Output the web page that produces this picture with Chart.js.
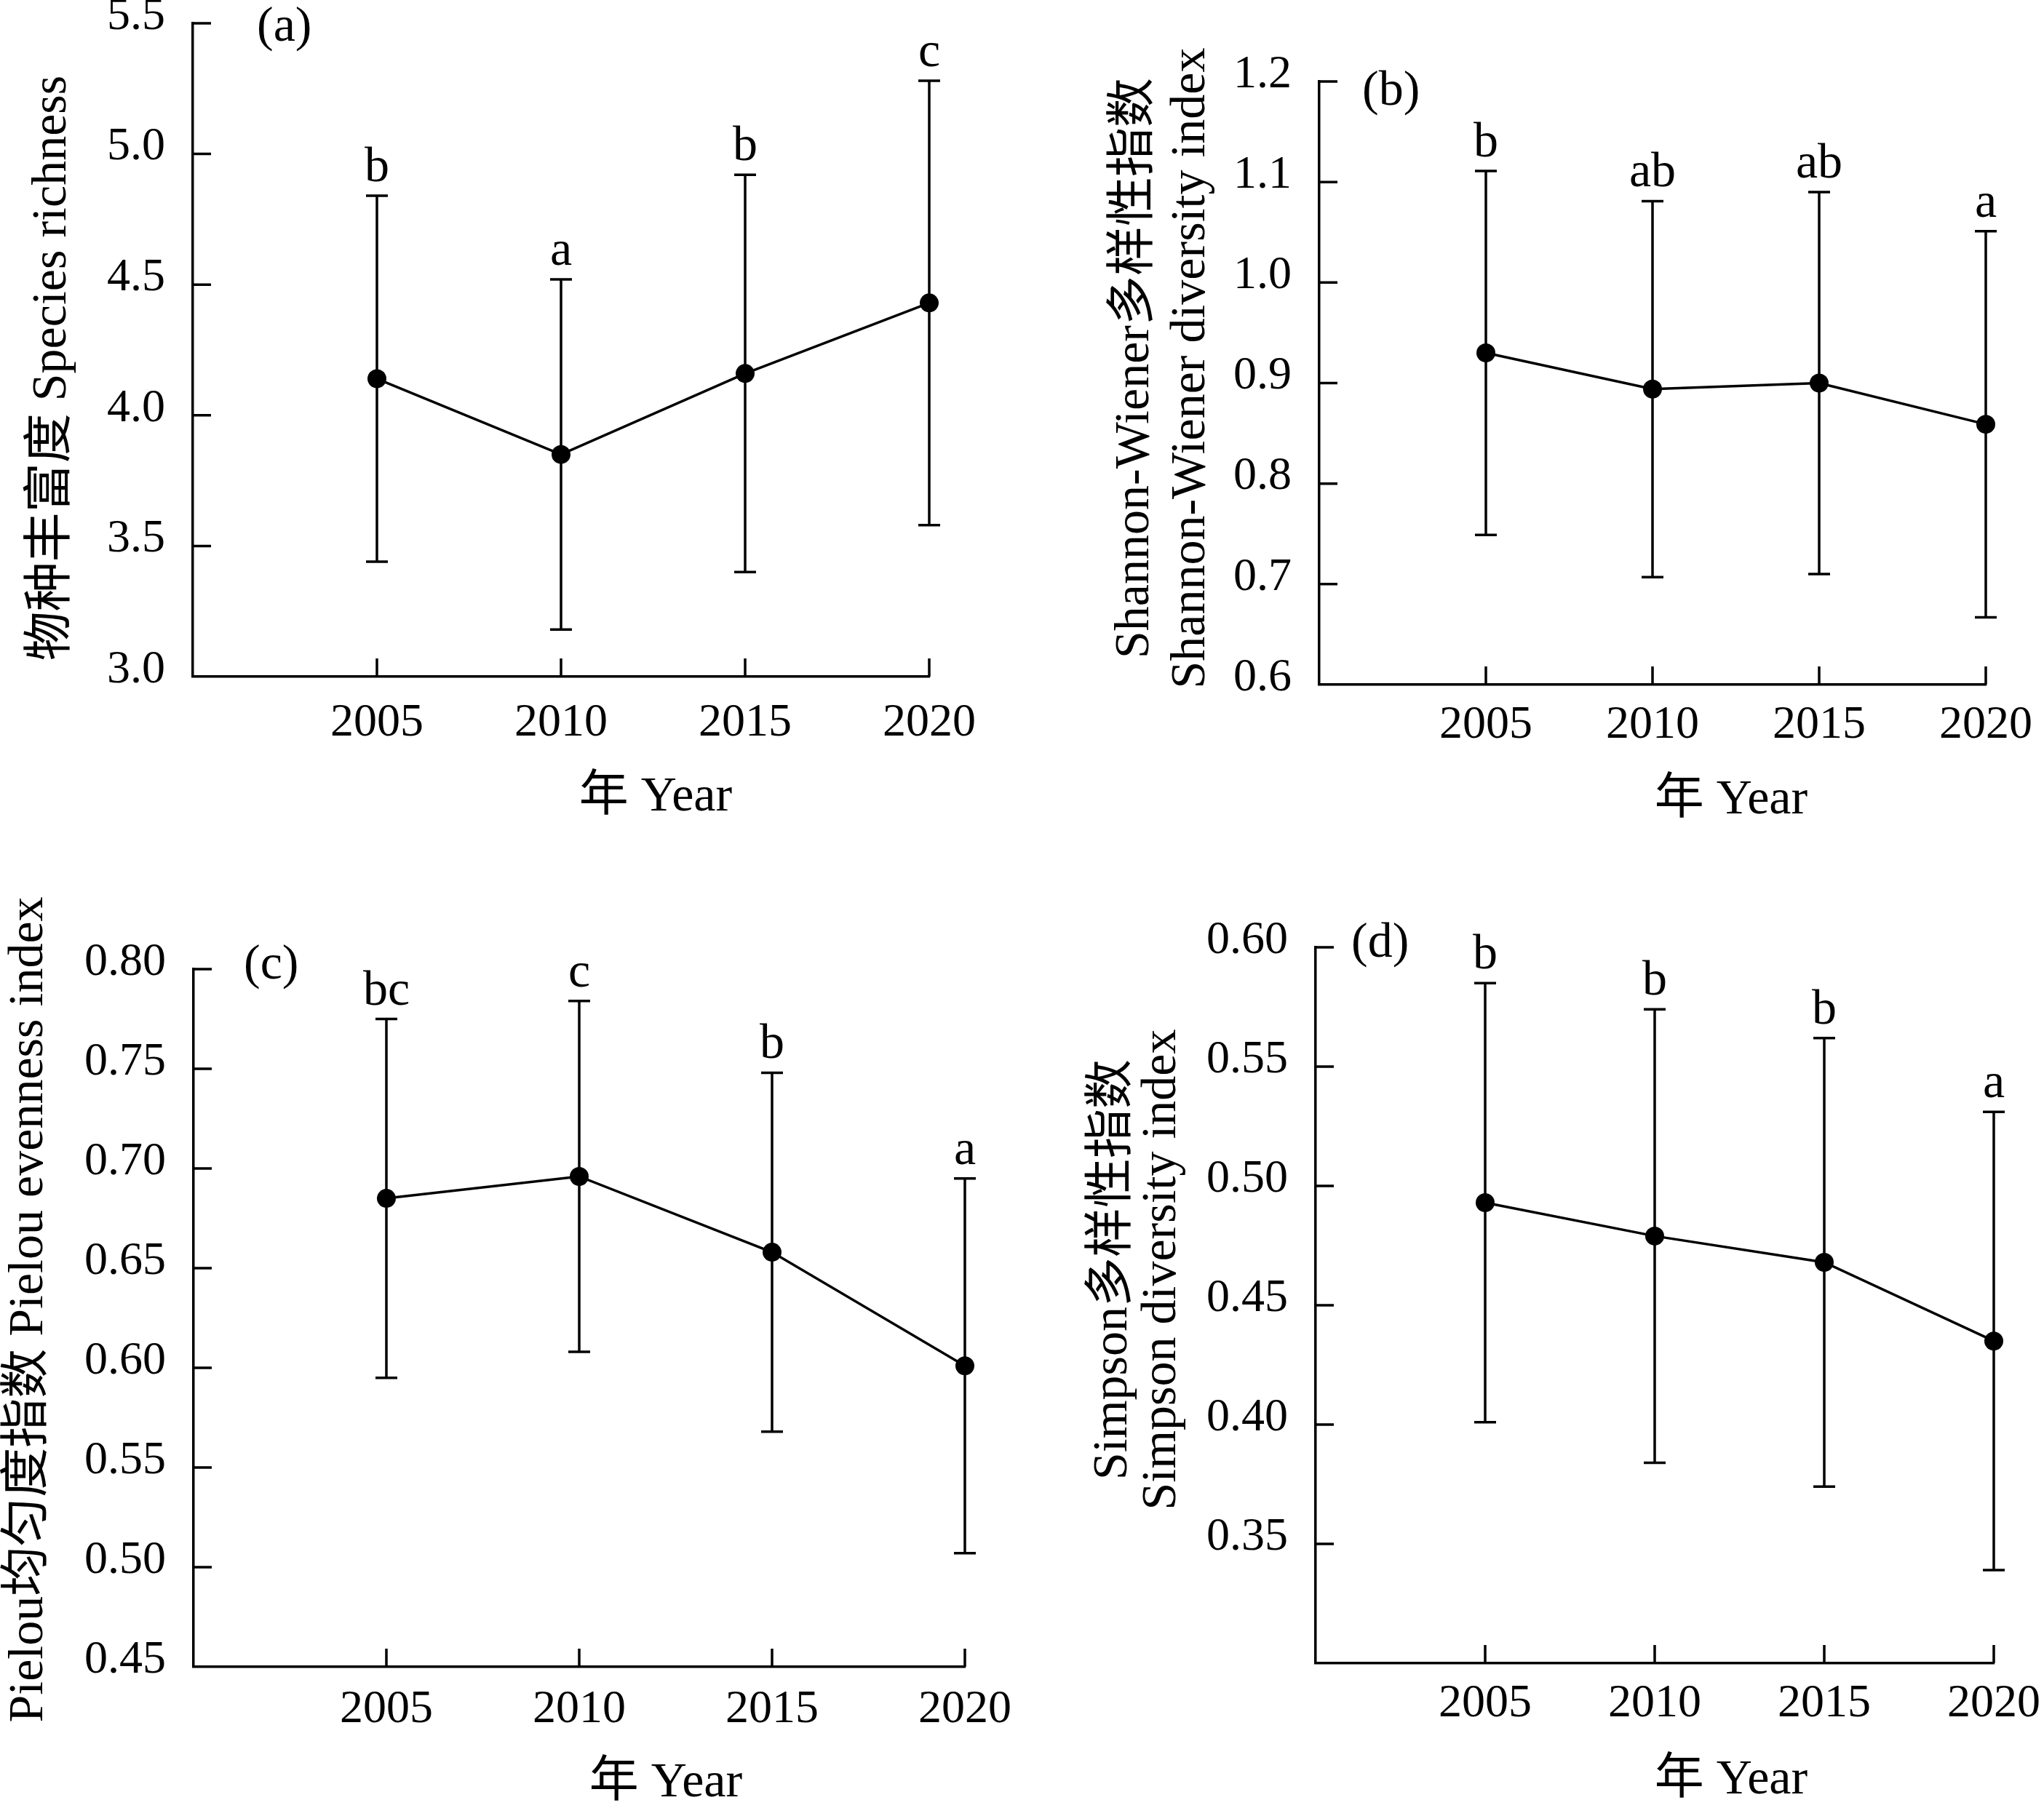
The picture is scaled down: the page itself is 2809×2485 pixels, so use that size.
<!DOCTYPE html>
<html>
<head>
<meta charset="utf-8">
<script src="https://cdn.jsdelivr.net/npm/chart.js@4.4.1/dist/chart.umd.min.js"></script>
<style>
  html, body { margin: 0; padding: 0; background: #fff; overflow: hidden; }
  body { width: 2809px; height: 2485px; position: relative; }
  canvas { position: absolute; left: 0; top: 0; }
</style>
</head>
<body>
<canvas id="panelA" width="2809" height="2485"></canvas>
<canvas id="panelB" width="2809" height="2485"></canvas>
<canvas id="panelC" width="2809" height="2485"></canvas>
<canvas id="panelD" width="2809" height="2485"></canvas>
<script>
// --- data (mean ± SD per survey year) ---
const years = [2005, 2010, 2015, 2020];

const richMean = [4.14, 3.85, 4.16, 4.43];
const richSD = [0.70, 0.67, 0.76, 0.85];
const richLetters = ['b', 'a', 'b', 'c'];
const richTicks = [3.0, 3.5, 4.0, 4.5, 5.0, 5.5];

const shanMean = [0.930, 0.894, 0.900, 0.859];
const shanSD = [0.181, 0.187, 0.190, 0.192];
const shanLetters = ['b', 'ab', 'ab', 'a'];
const shanTicks = [0.6, 0.7, 0.8, 0.9, 1.0, 1.1, 1.2];

const pielouMean = [0.685, 0.696, 0.658, 0.601];
const pielouSD = [0.090, 0.088, 0.090, 0.094];
const pielouLetters = ['bc', 'c', 'b', 'a'];
const pielouTicks = [0.45, 0.50, 0.55, 0.60, 0.65, 0.70, 0.75, 0.80];

const simpMean = [0.493, 0.479, 0.468, 0.435];
const simpSD = [0.092, 0.095, 0.094, 0.096];
const simpLetters = ['b', 'b', 'b', 'a'];
const simpTicks = [0.35, 0.40, 0.45, 0.50, 0.55, 0.60];

// --- layout ---
const W = 2809, H = 2485;
const FONT = "'Liberation Serif', 'Noto Sans CJK SC', serif";
const LINE_W = 3.5;
const CAP = 15;
const TICK_LEN = 25;
const Y_BOX = 250;   // room kept for the y tick labels
const X_BOX = 120;   // room kept for the x tick labels

Chart.defaults.font.family = FONT;
Chart.defaults.color = '#000';

const panels = [
    { id: 'panelA', mean: richMean, sd: richSD, letters: richLetters, ticks: richTicks, yMin: 3.0, yMax: 5.5, dec: 1,
      area: { left: 265, top: 32, right: 1277, bottom: 930 }, xPad: 26,
      tag: '(a)', tagPos: [353, 38],
      yTitle: ['物种丰富度 Species richness'], yTitleX: [72], yTitleY: 506,
      xTitlePos: [901, 1096] },
    { id: 'panelB', mean: shanMean, sd: shanSD, letters: shanLetters, ticks: shanTicks, yMin: 0.6, yMax: 1.2, dec: 1,
      area: { left: 1813, top: 112, right: 2729, bottom: 941 }, xPad: 18,
      tag: '(b)', tagPos: [1872, 126],
      yTitle: ['Shannon-Wiener多样性指数', 'Shannon-Wiener diversity index'], yTitleX: [1560, 1637], yTitleY: 506,
      xTitlePos: [2379, 1100] },
    { id: 'panelC', mean: pielouMean, sd: pielouSD, letters: pielouLetters, ticks: pielouTicks, yMin: 0.45, yMax: 0.80, dec: 2,
      area: { left: 266, top: 1332, right: 1326, bottom: 2291 }, xPad: 21,
      tag: '(c)', tagPos: [335, 1327],
      yTitle: ['Pielou均匀度指数 Pielou evenness index'], yTitleX: [40], yTitleY: 1800,
      xTitlePos: [915, 2451] },
    { id: 'panelD', mean: simpMean, sd: simpSD, letters: simpLetters, ticks: simpTicks, yMin: 0.30, yMax: 0.60, dec: 2,
      area: { left: 1808, top: 1302, right: 2740, bottom: 2286 }, xPad: 18,
      tag: '(d)', tagPos: [1857, 1297],
      yTitle: ['Simpson多样性指数', 'Simpson diversity index'], yTitleX: [1530, 1597], yTitleY: 1745,
      xTitlePos: [2379, 2447] }
];

const zeroPadding = (s) => { s.paddingLeft = 0; s.paddingRight = 0; s.paddingTop = 0; s.paddingBottom = 0; };

// error bars, inward ticks, significance letters and titles
const makePanelPlugin = (p) => ({
    id: 'panelExtras',
    beforeDatasetsDraw(chart) {
        const { ctx, scales: { x, y } } = chart;
        ctx.save();
        ctx.strokeStyle = '#000';
        ctx.lineWidth = LINE_W;
        p.mean.forEach((m, i) => {
            const px = x.getPixelForValue(years[i]);
            const top = y.getPixelForValue(m + p.sd[i]);
            const bot = y.getPixelForValue(m - p.sd[i]);
            ctx.beginPath();
            ctx.moveTo(px, top); ctx.lineTo(px, bot);
            ctx.moveTo(px - CAP, top); ctx.lineTo(px + CAP, top);
            ctx.moveTo(px - CAP, bot); ctx.lineTo(px + CAP, bot);
            ctx.stroke();
        });
        ctx.restore();
    },
    afterDraw(chart) {
        const { ctx, chartArea, scales: { x, y } } = chart;
        ctx.save();
        ctx.strokeStyle = '#000';
        ctx.lineWidth = LINE_W;
        ctx.beginPath();
        p.ticks.forEach(v => {
            if (v === p.yMin) return;
            const py = y.getPixelForValue(v);
            ctx.moveTo(chartArea.left, py); ctx.lineTo(chartArea.left + TICK_LEN, py);
        });
        years.forEach(v => {
            const px = x.getPixelForValue(v);
            ctx.moveTo(px, chartArea.bottom); ctx.lineTo(px, chartArea.bottom - TICK_LEN);
        });
        ctx.stroke();

        ctx.fillStyle = '#000';
        ctx.font = `68px ${FONT}`;

        // significance letters above the upper caps
        ctx.textAlign = 'center';
        ctx.textBaseline = 'alphabetic';
        p.letters.forEach((t, i) => {
            const px = x.getPixelForValue(years[i]);
            const top = y.getPixelForValue(p.mean[i] + p.sd[i]);
            ctx.fillText(t, px, top - 20);
        });

        // panel tag
        ctx.textAlign = 'left';
        ctx.textBaseline = 'middle';
        ctx.fillText(p.tag, p.tagPos[0], p.tagPos[1]);

        // x title
        ctx.textAlign = 'center';
        ctx.fillText('年 Year', p.xTitlePos[0], p.xTitlePos[1]);

        // y title (rotated)
        p.yTitle.forEach((line, i) => {
            ctx.save();
            ctx.translate(p.yTitleX[i], p.yTitleY);
            ctx.rotate(-Math.PI / 2);
            ctx.fillText(line, 0, 0);
            ctx.restore();
        });
        ctx.restore();
    }
});

panels.forEach(p => {
    new Chart(document.getElementById(p.id), {
        type: 'line',
        data: {
            datasets: [{
                data: years.map((yr, i) => ({ x: yr, y: p.mean[i] })),
                borderColor: '#000',
                borderWidth: LINE_W,
                backgroundColor: '#000',
                pointBackgroundColor: '#000',
                pointBorderColor: '#000',
                pointRadius: 13,
                pointBorderWidth: 0,
                tension: 0,
                clip: false
            }]
        },
        options: {
            responsive: false,
            animation: false,
            devicePixelRatio: 1,
            events: [],
            layout: { padding: {
                left: p.area.left - Y_BOX,
                top: p.area.top,
                right: W - p.area.right,
                bottom: H - p.area.bottom - X_BOX
            } },
            plugins: { legend: { display: false }, tooltip: { enabled: false } },
            scales: {
                x: {
                    type: 'linear', min: 2000, max: 2020,
                    afterBuildTicks: (s) => { s.ticks = years.map(v => ({ value: v })); },
                    afterFit: (s) => { s.height = X_BOX; zeroPadding(s); },
                    grid: { display: false, drawTicks: false },
                    border: { display: true, color: '#000', width: LINE_W },
                    ticks: { font: { size: 64 }, padding: p.xPad, maxRotation: 0, autoSkip: false, callback: (v) => String(v) }
                },
                y: {
                    type: 'linear', min: p.yMin, max: p.yMax,
                    afterBuildTicks: (s) => { s.ticks = p.ticks.map(v => ({ value: v })); },
                    afterFit: (s) => { s.width = Y_BOX; zeroPadding(s); },
                    grid: { display: false, drawTicks: false },
                    border: { display: true, color: '#000', width: LINE_W },
                    ticks: { font: { size: 64 }, padding: 38, labelOffset: -9, autoSkip: false, callback: (v) => Number(v).toFixed(p.dec) }
                }
            }
        },
        plugins: [makePanelPlugin(p)]
    });
});
</script>
</body>
</html>
